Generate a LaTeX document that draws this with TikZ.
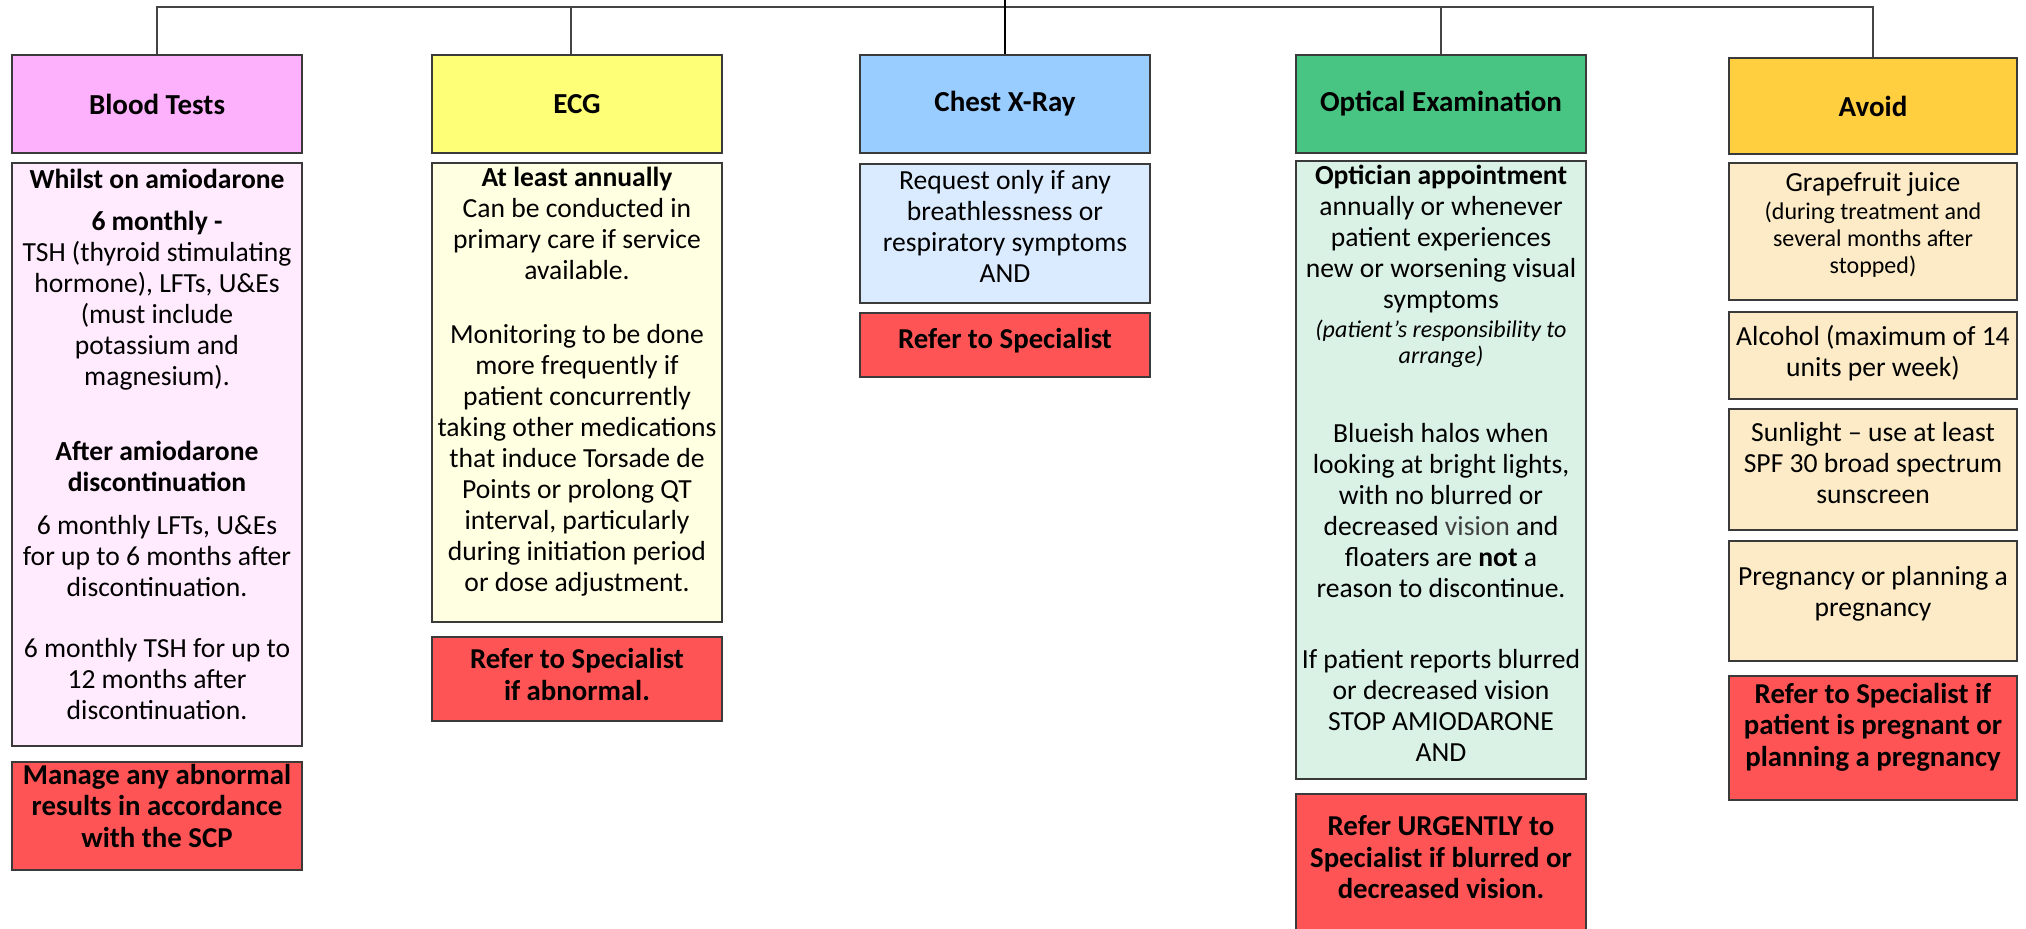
\documentclass[tikz,border=0pt]{standalone}
\usepackage{fontspec}
\setmainfont{Carlito}
\usepackage{tikz}
\usetikzlibrary{positioning}
\definecolor{boxline}{HTML}{3A3A3A}
\definecolor{linegray}{HTML}{444444}
\definecolor{bloodhead}{HTML}{FDB1FC}
\definecolor{bloodbody}{HTML}{FFEAFE}
\definecolor{ecghead}{HTML}{FFFF77}
\definecolor{ecgbody}{HTML}{FFFFE1}
\definecolor{chesthead}{HTML}{99CCFF}
\definecolor{chestbody}{HTML}{DAEBFF}
\definecolor{optichead}{HTML}{48C583}
\definecolor{opticbody}{HTML}{DAF1E5}
\definecolor{avoidhead}{HTML}{FFCF3F}
\definecolor{avoidbody}{HTML}{FCEBC6}
\definecolor{referred}{HTML}{FF5455}
\tikzset{
  headbox/.style={draw=boxline, line width=1pt,
    minimum width=145pt, minimum height=49pt,
    align=center, inner sep=1pt,
    font=\bfseries\fontsize{14.5}{15.5}\selectfont},
  infobox/.style={draw=boxline, line width=1pt,
    minimum width=145pt,
    align=center, inner sep=1pt,
    font=\fontsize{13.8}{15.5}\selectfont},
  referbox/.style={infobox, fill=referred,
    font=\bfseries\fontsize{14.4}{15.8}\selectfont},
  link/.style={draw=linegray, line width=1pt},
}
\newcommand{\smalltxt}{\fontsize{12}{13.5}\selectfont}
\newcommand{\padbelow}[1]{\\[#1]\mbox{}}

\begin{document}
\begin{tikzpicture}[x=0.5pt, y=0.5pt]
  \path[fill=white, use as bounding box] (0,0) rectangle (2026,-929);

  % Blood tests
  \node[headbox, fill=bloodhead, anchor=north west] (blood) at (11,-54) {Blood Tests};
  \node[infobox, fill=bloodbody, minimum height=291.5pt, below=4pt of blood] (bloodinfo)
    {{\bfseries Whilst on amiodarone}\\[5.5pt]
     {\bfseries 6 monthly -}\\
     TSH (thyroid stimulating\\
     hormone), LFTs, U\&Es\\
     (must include\\
     potassium and\\
     magnesium).\\[22pt]
     {\bfseries After amiodarone}\\
     {\bfseries discontinuation}\\[6pt]
     6 monthly LFTs, U\&Es\\
     for up to 6 months after\\
     discontinuation.\\[15pt]
     6 monthly TSH for up to\\
     12 months after\\
     discontinuation.\padbelow{-5.5pt}};
  \node[referbox, minimum height=53.5pt, below=7pt of bloodinfo] (bloodref)
    {Manage any abnormal\\results in accordance\\with the SCP\padbelow{-5.5pt}};

  % ECG
  \node[headbox, fill=ecghead, anchor=north west] (ecg) at (431,-54) {ECG};
  \node[infobox, fill=ecgbody, minimum height=229.5pt, below=4pt of ecg] (ecginfo)
    {{\bfseries At least annually}\\
     Can be conducted in\\
     primary care if service\\
     available.\\[16.5pt]
     Monitoring to be done\\
     more frequently if\\
     patient concurrently\\
     taking other medications\\
     that induce Torsade de\\
     Points or prolong QT\\
     interval, particularly\\
     during initiation period\\
     or dose adjustment.\padbelow{-2.5pt}};
  \node[referbox, minimum height=42pt, below=6.5pt of ecginfo] (ecgref)
    {Refer to Specialist\\if abnormal.\padbelow{-11pt}};

  % Chest X-ray
  \node[headbox, fill=chesthead, anchor=north west] (chest) at (859,-54) {Chest X-Ray};
  \node[infobox, fill=chestbody, minimum height=69.5pt, below=4.5pt of chest] (chestinfo)
    {Request only if any\\breathlessness or\\respiratory symptoms\\AND\padbelow{-8.5pt}};
  \node[referbox, minimum height=32pt, below=4pt of chestinfo] (chestref)
    {Refer to Specialist\padbelow{-9pt}};

  % Optical examination
  \node[headbox, fill=optichead, anchor=north west] (optic) at (1295,-54) {Optical Examination};
  \node[infobox, fill=opticbody, minimum height=309pt, below=3pt of optic] (opticinfo)
    {{\bfseries Optician appointment}\\
     annually or whenever\\
     patient experiences\\
     new or worsening visual\\
     symptoms\\[-1pt]
     {\smalltxt\itshape (patient’s responsibility to}\\[-2.5pt]
     {\smalltxt\itshape arrange)}\\[24pt]
     Blueish halos when\\
     looking at bright lights,\\
     with no blurred or\\
     decreased {\color{black!75}vision} and\\
     floaters are {\bfseries not} a\\
     reason to discontinue.\\[20pt]
     If patient reports blurred\\
     or decreased vision\\
     STOP AMIODARONE\\
     AND\padbelow{-9pt}};
  \node[referbox, minimum height=75pt, below=6.5pt of opticinfo] (opticref)
    {Refer URGENTLY to\\Specialist if blurred or\\decreased vision.\padbelow{-4pt}};

  % Avoid
  \node[headbox, fill=avoidhead, minimum width=144pt, minimum height=48pt,
        anchor=north west] (avoid) at (1728,-57) {Avoid};
  \node[infobox, fill=avoidbody, minimum width=144pt, minimum height=68.5pt,
        below=3.5pt of avoid] (grape)
    {Grapefruit juice\\[-1.5pt]
     {\smalltxt (during treatment and}\\[-2pt]
     {\smalltxt several months after}\\[-2pt]
     {\smalltxt stopped)}\padbelow{-7pt}};
  \node[infobox, fill=avoidbody, minimum width=144pt, minimum height=43.5pt,
        below=5pt of grape] (alcohol)
    {Alcohol (maximum of 14\\units per week)\padbelow{-10.5pt}};
  \node[infobox, fill=avoidbody, minimum width=144pt, minimum height=60.5pt,
        below=4pt of alcohol] (sun)
    {Sunlight -- use at least\\SPF 30 broad spectrum\\sunscreen\padbelow{-8.5pt}};
  \node[infobox, fill=avoidbody, minimum width=144pt, minimum height=60pt,
        below=4.5pt of sun] (pregnant)
    {Pregnancy or planning a\\pregnancy\padbelow{-5.5pt}};
  \node[referbox, minimum width=144pt, minimum height=62pt, below=6.5pt of pregnant] (avoidref)
    {Refer to Specialist if\\patient is pregnant or\\planning a pregnancy\padbelow{-2.5pt}};

  % connectors
  \coordinate (top) at (1005,0);
  \coordinate (bus) at (1005,-7);
  \draw[link] (blood.north) |- (bus) -| (avoid.north);
  \draw[link] ([xshift=-3pt]ecg.north) -- ([xshift=-3pt]ecg.north |- bus);
  \draw[link] (optic.north) -- (optic.north |- bus);
  \draw[link, draw=black] (top) -- (chest.north);
\end{tikzpicture}
\end{document}
